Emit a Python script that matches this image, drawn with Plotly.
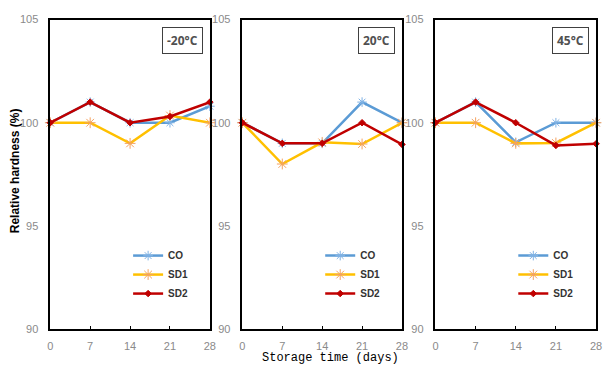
import plotly.graph_objects as go

days = [0, 7, 14, 21, 28]
panels = ["-20°C", "20°C", "45°C"]
series_names = ["CO", "SD1", "SD2"]

co_m20 = [100, 101, 100, 100, 100.8]
sd1_m20 = [100, 100, 99, 100.35, 100]
sd2_m20 = [100, 101, 100, 100.3, 101]

co_20 = [100, 99, 99, 101, 100]
sd1_20 = [100, 98, 99.05, 98.97, 100]
sd2_20 = [100, 99, 99, 100, 98.95]

co_45 = [100, 101, 99.05, 100, 100]
sd1_45 = [100, 100, 99, 99.02, 100]
sd2_45 = [100, 101, 100, 98.9, 98.98]

y_ticks = [90, 95, 100, 105]
x_ticks = [0, 7, 14, 21, 28]

data = [
    [co_m20, sd1_m20, sd2_m20],
    [co_20, sd1_20, sd2_20],
    [co_45, sd1_45, sd2_45],
]

W, H = 605, 368
px_x = [(48, 210), (243, 405), (439, 602)]
top_px, bot_px = 14, 334

line_colors = ["#5B9BD5", "#FFC000", "#C00000"]
marker_colors = ["#7FB2E5", "#F4A261", "#C00000"]
marker_symbols = ["asterisk-open", "asterisk-open", "diamond"]
marker_sizes = [8, 9, 5]

fig = go.Figure()
layout = dict(
    width=W, height=H,
    margin=dict(l=0, r=0, t=0, b=0),
    paper_bgcolor="white", plot_bgcolor="white",
    annotations=[],
)

for i in range(3):
    ax = "" if i == 0 else str(i + 1)
    lg = "legend" if i == 0 else f"legend{i + 1}"
    for j in range(3):
        fig.add_trace(go.Scatter(
            x=days, y=data[i][j], name=series_names[j],
            mode="lines+markers",
            line=dict(color=line_colors[j], width=2.5),
            marker=dict(symbol=marker_symbols[j], size=marker_sizes[j],
                        color=marker_colors[j],
                        line=dict(color=marker_colors[j], width=1)),
            xaxis="x" + ax, yaxis="y" + ax, legend=lg,
            cliponaxis=False,
        ))
    x0, x1 = px_x[i]
    layout["xaxis" + ax] = dict(
        domain=[x0 / W, x1 / W], range=[0, 28], anchor="y" + ax,
        tickvals=x_ticks, ticks="inside", ticklen=3, tickcolor="black",
        showline=True, linecolor="black", linewidth=1.5, mirror=True,
        showgrid=False, zeroline=False, ticklabelstandoff=6,
        tickfont=dict(family="Liberation Sans", size=11, color="#8a8a8a"),
    )
    layout["yaxis" + ax] = dict(
        domain=[1 - bot_px / H, 1 - top_px / H], range=[90, 105], anchor="x" + ax,
        tickvals=y_ticks, ticks="outside", ticklen=8, tickcolor="rgba(0,0,0,0)",
        showline=True, linecolor="black", linewidth=1.5, mirror=True,
        showgrid=False, zeroline=False,
        tickfont=dict(family="Liberation Sans", size=11, color="#8a8a8a"),
    )
    # overlay axis carrying only the small inside tick marks
    layout["yaxis" + str(i + 4)] = dict(
        overlaying="y" + ax, anchor="x" + ax, side="left",
        range=[90, 105], tickvals=y_ticks, ticks="inside", ticklen=3,
        tickcolor="black", showticklabels=False, showline=False,
        showgrid=False, zeroline=False,
    )
    layout[lg] = dict(
        x=(x0 + 79) / W, y=1 - 243 / H, xanchor="left", yanchor="top",
        bgcolor="rgba(0,0,0,0)",
        font=dict(family="Liberation Sans", size=10, color="#333333", weight="bold"),
        tracegroupgap=0, itemwidth=30,
    )
    layout["annotations"].append(dict(
        text=panels[i], xref=("x" + ax + " domain"), yref=("y" + ax + " domain"),
        x=0.957, y=0.975, xanchor="right", yanchor="top", showarrow=False,
        font=dict(family="Open Sans", size=12, color="#505050", weight="bold"),
        bordercolor="#404040", borderwidth=1, borderpad=4, bgcolor="white",
    ))

layout["annotations"].append(dict(
    text="Relative hardness (%)", xref="paper", yref="paper",
    x=13 / W, y=1 - 170 / H, xanchor="center", yanchor="middle",
    textangle=-90, showarrow=False,
    font=dict(family="Liberation Sans", size=12, color="black", weight="bold"),
))
layout["annotations"].append(dict(
    text="Storage time (days)", xref="paper", yref="paper",
    x=332 / W, y=1 - 364 / H, xanchor="center", yanchor="middle", showarrow=False,
    font=dict(family="Liberation Mono", size=12, color="black"),
))

fig.update_layout(**layout)
fig.write_html("out.html", config={"displayModeBar": False},
               post_script="document.body.style.margin='0';")
